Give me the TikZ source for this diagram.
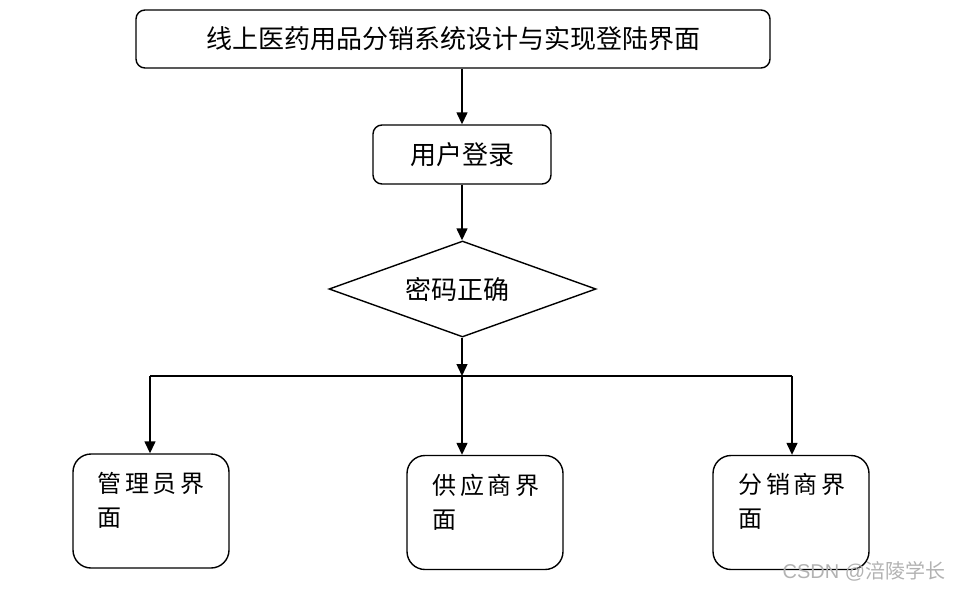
\documentclass[tikz,border=0pt]{standalone}
\usepackage{fontspec}
\setmainfont{Liberation Sans}
\newfontfamily\cjk{Noto Sans CJK SC}
\newfontfamily\cjkwide{Noto Sans CJK SC}[LetterSpace=15]
\usetikzlibrary{arrows.meta,shapes.geometric}
\begin{document}
\begin{tikzpicture}[x=1pt,y=-1pt,
  line width=1.4pt,
  box/.style={draw=black,rounded corners=9pt,inner sep=0pt},
  bigbox/.style={draw=black,rounded corners=18pt,inner sep=0pt,minimum width=156pt,minimum height=114pt},
  dec/.style={draw=black,diamond,aspect=2.78,inner sep=0pt,minimum width=267pt,minimum height=96pt},
  arr/.style={-{Triangle[length=12pt,width=11pt]}},
  lbl/.style={font=\cjk\fontsize{26}{30}\selectfont},
  sublbl/.style={font=\cjkwide\fontsize{24}{34}\selectfont,align=left,anchor=north west,inner sep=0pt}]
\useasboundingbox (0,0) rectangle (963,589);
\node[box,minimum width=634pt,minimum height=58pt,lbl] (top) at (453,39) {线上医药用品分销系统设计与实现登陆界面};
\node[box,minimum width=178pt,minimum height=59pt,lbl] (login) at (462,154.5) {用户登录};
\node[dec,lbl] (pwd) at (462.5,289) {\hspace*{-11pt}密码正确};
\node[bigbox] (b1) at (151,511) {};
\node[bigbox] (b2) at (485,512.5) {};
\node[bigbox] (b3) at (791,512.5) {};
\node[sublbl] (t1) at (97,472) {管理员界\\面};
\node[sublbl] (t2) at (432,473) {供应商界\\面};
\node[sublbl] (t3) at (738,473) {分销商界\\面};
\coordinate (j) at (462,376);
\coordinate (l) at (150,376);
\coordinate (r) at (792,376);
\draw[arr] (top.south -| login.north) -- (login.north);
\draw[arr] (login.south) -- (pwd.north -| login.south);
\draw[arr] (pwd.south -| login.south) -- (j);
\draw (l) -- (r);
\draw[arr] (l) -- (l |- b1.north);
\draw[arr] (j) -- (j |- b2.north);
\draw[arr] (r) -- (r |- b3.north);
\node[anchor=west,inner sep=0pt,text=black!30,font=\fontsize{20}{24}\selectfont] (wm) at (782,571) {CSDN @{\cjk 涪陵学长}};
\end{tikzpicture}
\end{document}
